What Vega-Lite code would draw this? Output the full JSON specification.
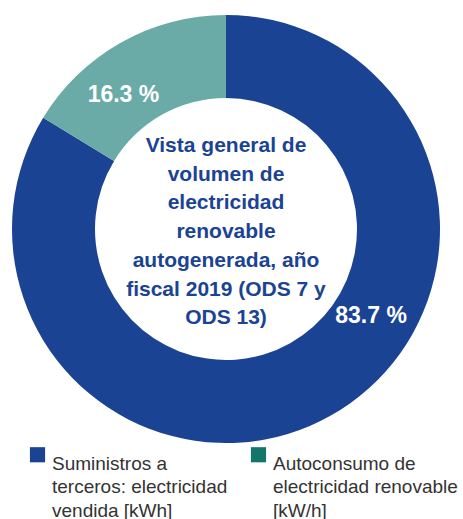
{
  "$schema": "https://vega.github.io/schema/vega-lite/v6.json",
  "width": 452,
  "height": 458,
  "padding": 0,
  "autosize": {"type": "pad"},
  "background": "white",
  "config": {"view": {"stroke": null}, "font": "Liberation Sans"},
  "data": {
    "values": [
      {"cat": "Suministros a|terceros: electricidad|vendida [kWh]", "value": 83.7, "label": "83.7 %", "ord": 1},
      {"cat": "Autoconsumo de|electricidad renovable|[kW/h]", "value": 16.3, "label": "16.3 %", "ord": 2}
    ]
  },
  "encoding": {
    "theta": {"field": "value", "type": "quantitative", "stack": true},
    "order": {"field": "ord", "type": "ordinal"}
  },
  "layer": [
    {
      "mark": {"type": "arc", "radius": 214, "radius2": 131},
      "encoding": {
        "color": {
          "field": "cat", "type": "nominal",
          "scale": {"domain": ["Suministros a|terceros: electricidad|vendida [kWh]", "Autoconsumo de|electricidad renovable|[kW/h]"], "range": ["#1b4394", "#6aaba8"]},
          "legend": null
        }
      }
    },
    {
      "mark": {"type": "text", "radius": 0, "text": ""},
      "encoding": {
        "fill": {
          "field": "cat", "type": "nominal",
          "scale": {"domain": ["Suministros a|terceros: electricidad|vendida [kWh]", "Autoconsumo de|electricidad renovable|[kW/h]"], "range": ["#1b4394", "#13766a"]},
          "legend": {
            "title": null,
            "orient": "none",
            "legendX": 28,
            "legendY": 445,
            "direction": "horizontal",
            "columns": 2,
            "symbolType": "square",
            "symbolSize": 230,
            "symbolOpacity": 1,
            "symbolStrokeWidth": 0,
            "labelFontSize": 19,
            "labelColor": "#333333",
            "labelFont": "Liberation Sans",
            "labelLimit": 300,
            "labelExpr": "split(datum.label, '|')",
            "labelBaseline": "top",
            "labelOffset": 5,
            "columnPadding": 21,
            "encode": {"labels": {"update": {"lineHeight": {"value": 23.5}}}}
          }
        }
      }
    },
    {
      "mark": {"type": "text", "radius": 169, "thetaOffset": -0.14, "fill": "white", "fontSize": 23, "fontWeight": "bold", "font": "Liberation Sans"},
      "encoding": {"text": {"condition": {"test": "datum.ord == 1", "value": ""}, "field": "label"}}
    },
    {
      "mark": {"type": "text", "radius": 169, "thetaOffset": -0.52, "fill": "white", "fontSize": 23, "fontWeight": "bold", "font": "Liberation Sans"},
      "encoding": {"text": {"condition": {"test": "datum.ord == 2", "value": ""}, "field": "label"}}
    },
    {
      "data": {"values": [{"t": 1}]},
      "mark": {"type": "text", "fill": "#1b4394", "fontSize": 21, "fontWeight": "bold", "font": "Liberation Sans", "align": "center", "baseline": "middle", "lineHeight": 28.7, "dy": -83},
      "encoding": {
        "theta": null, "order": null,
        "text": {"value": ["Vista general de", "volumen de", "electricidad", "renovable", "autogenerada, año", "fiscal 2019 (ODS 7 y", "ODS 13)"]}
      }
    }
  ],
  "resolve": {"scale": {"color": "independent", "fill": "independent"}}
}
